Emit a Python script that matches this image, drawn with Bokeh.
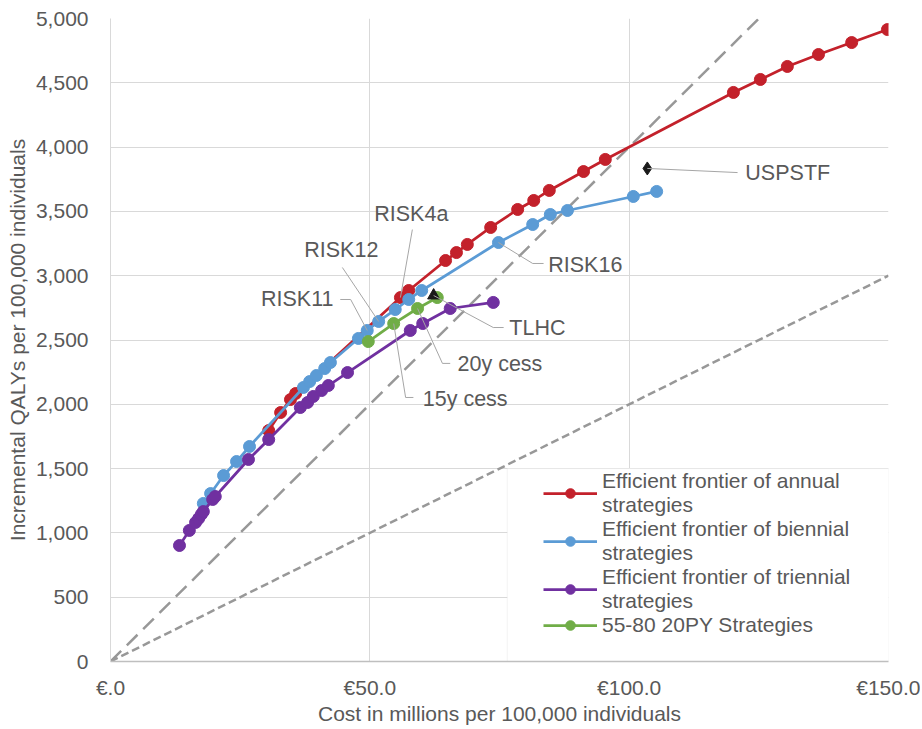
from bokeh.plotting import figure
from bokeh.models import (Range1d, FixedTicker, NumeralTickFormatter, Legend,
                          LegendItem, BoxAnnotation)
from bokeh.core.properties import value
from bokeh.embed import file_html
from bokeh.resources import INLINE

# ---------------- data ----------------
annual_cost = [30.5, 32.8, 34.7, 35.7, 55.9, 57.5, 64.6, 66.7, 68.8, 73.3, 78.5,
               81.6, 84.6, 91.2, 95.4, 120.1, 125.3, 130.5, 136.5, 142.9, 149.8]
annual_qaly = [1796, 1936, 2037, 2084, 2830, 2885, 3118, 3180, 3243, 3375, 3515,
               3585, 3663, 3810, 3904, 4425, 4526, 4627, 4720, 4813, 4914]

biennial_cost = [17.9, 19.3, 21.8, 24.3, 26.8, 37.2, 38.4, 39.7, 41.3, 42.4, 47.8,
                 49.5, 51.7, 54.9, 57.5, 60.0, 74.8, 81.4, 84.8, 88.1, 100.8, 105.3]
biennial_qaly = [1229, 1306, 1446, 1555, 1672, 2131, 2177, 2224, 2278, 2325, 2512,
                 2574, 2644, 2737, 2815, 2885, 3258, 3398, 3476, 3507, 3616, 3655]

triennial_cost = [13.3, 15.2, 16.4, 17.0, 17.5, 17.9, 19.7, 20.2, 26.6, 30.5, 36.6,
                  38.0, 39.1, 40.7, 42.0, 45.7, 57.8, 60.2, 65.5, 73.8]
triennial_qaly = [902, 1019, 1081, 1112, 1143, 1166, 1260, 1283, 1571, 1726, 1975,
                  2014, 2061, 2107, 2146, 2247, 2574, 2628, 2745, 2792]

py20_cost = [49.7, 54.6, 59.2, 63.0]
py20_qaly = [2488, 2628, 2745, 2830]

tlhc_cost, tlhc_qaly = [62.3], [2846]
uspstf_cost, uspstf_qaly = [103.5], [3834]

# willingness-to-pay thresholds (EUR per QALY) for the reference lines
wtp_thresholds = [25000, 50000]

x_ticks = [0, 50, 100, 150]
x_tick_labels = ["€.0", "€50.0", "€100.0", "€150.0"]
y_ticks = list(range(0, 5001, 500))

series_names = ["Efficient frontier of annual\nstrategies",
                "Efficient frontier of biennial\nstrategies",
                "Efficient frontier of triennial\nstrategies",
                "55-80 20PY Strategies"]

# ---------------- styling ----------------
FONT = "Liberation Sans"
FS = "21px"
TXT = "#595959"
GRID = "#d9d9d9"
LEAD = "#a6a6a6"
colors = ["#C3212B", "#5B9BD5", "#7030A0", "#70AD47"]

X_MAX, Y_MAX = 150, 5000

p = figure(width=920, height=727, output_backend="svg", toolbar_location=None,
           x_range=Range1d(0, X_MAX), y_range=Range1d(0, Y_MAX),
           min_border_left=110, min_border_right=32, min_border_top=18,
           min_border_bottom=66)
p.outline_line_color = None
p.background_fill_color = "white"
p.border_fill_color = "white"

p.xaxis.ticker = FixedTicker(ticks=x_ticks)
p.xaxis.major_label_overrides = {t: l for t, l in zip(x_ticks, x_tick_labels)}
p.yaxis.ticker = FixedTicker(ticks=y_ticks)
p.yaxis.formatter = NumeralTickFormatter(format="0,0")
p.xgrid.ticker = FixedTicker(ticks=x_ticks)
p.ygrid.ticker = FixedTicker(ticks=y_ticks)
for g in (p.xgrid, p.ygrid):
    g.grid_line_color = GRID
    g.grid_line_width = 1

for ax in (p.xaxis, p.yaxis):
    ax.major_tick_line_color = None
    ax.minor_tick_line_color = None
    ax.major_label_text_font = FONT
    ax.major_label_text_font_size = FS
    ax.major_label_text_color = TXT
    ax.axis_label_text_font = FONT
    ax.axis_label_text_font_size = FS
    ax.axis_label_text_color = TXT
    ax.axis_label_text_font_style = "normal"
p.xaxis.axis_line_color = "#bfbfbf"
p.xaxis.axis_line_width = 1.5
p.yaxis.axis_line_color = GRID
p.xaxis.major_label_standoff = 8
p.xaxis.axis_label_standoff = 0
p.yaxis.major_label_standoff = 16
p.yaxis.axis_label_standoff = 4
p.xaxis.axis_label = "Cost in millions per 100,000 individuals"
p.yaxis.axis_label = "Incremental QALYs per 100,000 individuals"

# legend box (white panel in the lower right)
box = BoxAnnotation(left=76.5, right=X_MAX, bottom=0, top=1500,
                    fill_color="white", fill_alpha=1.0,
                    line_color=GRID, line_width=1, level="underlay")
p.add_layout(box)

# reference WTP lines
for wtp, dash in zip(wtp_thresholds, ["15 8", "8 4"]):
    slope = 1e6 / wtp
    x_end = min(X_MAX, Y_MAX / slope)
    p.line([0, x_end], [0, x_end * slope], line_color="#989898",
           line_width=2.5, line_dash=dash)

# series
series = [(annual_cost, annual_qaly), (biennial_cost, biennial_qaly),
          (triennial_cost, triennial_qaly), (py20_cost, py20_qaly)]
items = []
for (xs, ys), c, name in zip(series, colors, series_names):
    rl = p.line(xs, ys, line_color=c, line_width=2.75)
    rs = p.scatter(xs, ys, marker="circle", size=12, fill_color=c, line_color=c)
    items.append(LegendItem(label=name, renderers=[rl, rs]))

# single strategies
p.scatter(tlhc_cost, tlhc_qaly, marker="triangle", size=12,
          fill_color="#1a1a1a", line_color="#1a1a1a")
p.scatter(uspstf_cost, uspstf_qaly, marker="diamond", size=13,
          fill_color="#1a1a1a", line_color="#1a1a1a")

# annotations: label, target point, intermediate leader points, text pos, align
def pt(xs, ys, i):
    return (xs[i], ys[i])

annotations = [
    ("RISK4a", pt(annual_cost, annual_qaly, 4), [(58.2, 3359)], (58.0, 3476), "center"),
    ("RISK12", pt(biennial_cost, biennial_qaly, 12), [(44.7, 3064)], (44.5, 3196), "center"),
    ("RISK11", pt(biennial_cost, biennial_qaly, 11), [(46.3, 2815), (44.3, 2815)], (43.0, 2815), "right"),
    ("RISK16", pt(biennial_cost, biennial_qaly, 16), [(81.4, 3095), (83.5, 3095)], (84.4, 3085), "left"),
    ("TLHC", pt(tlhc_cost, tlhc_qaly, 0), [(73.8, 2597), (75.8, 2597)], (76.9, 2597), "left"),
    ("20y cess", pt(py20_cost, py20_qaly, 2), [(64.0, 2318), (65.5, 2318)], (66.9, 2310), "left"),
    ("15y cess", pt(py20_cost, py20_qaly, 1), [(56.9, 2053), (58.4, 2053)], (60.2, 2045), "left"),
    ("USPSTF", pt(uspstf_cost, uspstf_qaly, 0), [(120.9, 3802)], (122.4, 3795), "left"),
]
lx, ly = [], []
for lab, tgt, path, tpos, al in annotations:
    lx.append([tgt[0]] + [q[0] for q in path])
    ly.append([tgt[1]] + [q[1] for q in path])
p.multi_line(lx, ly, line_color=LEAD, line_width=1)
for lab, tgt, path, tpos, al in annotations:
    p.text([tpos[0]], [tpos[1]], text=[lab], text_font=value(FONT),
           text_font_size="21.5px", text_color=TXT, text_align=al,
           text_baseline="middle")

legend = Legend(items=items, location=(433, 24),
                label_text_font=FONT, label_text_font_size=FS,
                label_text_color=TXT, label_text_line_height=1.15,
                glyph_width=54, glyph_height=24, label_height=24,
                label_standoff=5, padding=0, spacing=0, margin=0,
                border_line_color=None, background_fill_alpha=0)
p.add_layout(legend)

open("out.html", "w").write(file_html(p, INLINE))
